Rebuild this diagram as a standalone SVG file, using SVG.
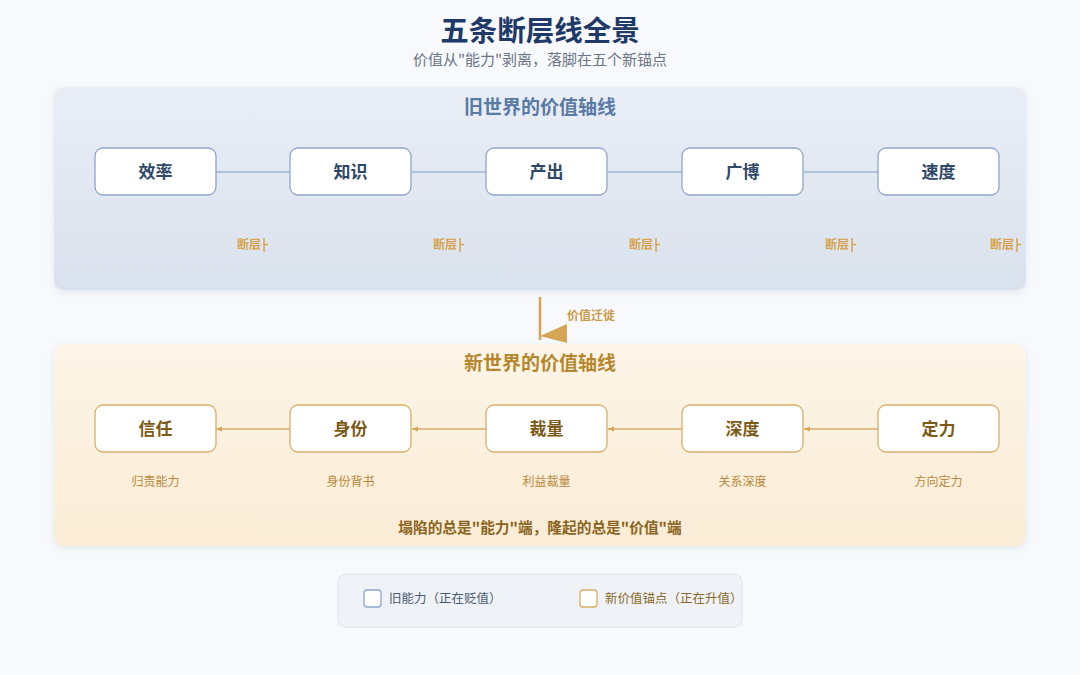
<svg xmlns="http://www.w3.org/2000/svg" width="1080" height="675" viewBox="0 0 1080 675">
<defs>
<linearGradient id="gOld" x1="0" y1="0" x2="0" y2="1"><stop offset="0" stop-color="#e9eef6"/><stop offset="1" stop-color="#dae2ed"/></linearGradient>
<linearGradient id="gNew" x1="0" y1="0" x2="0" y2="1"><stop offset="0" stop-color="#fdf5e8"/><stop offset="1" stop-color="#faecd6"/></linearGradient>
<filter id="sh" x="-5%" y="-10%" width="110%" height="125%"><feDropShadow dx="0" dy="2" stdDeviation="3" flood-color="#8090a8" flood-opacity="0.18"/></filter>
<marker id="ah" viewBox="0 0 10 10" refX="10" refY="5" markerWidth="6" markerHeight="6" orient="auto" markerUnits="userSpaceOnUse"><path d="M0,1 L10,5 L0,9 z" fill="#d4a656"/></marker>
<style>
text{font-family:"Noto Sans CJK SC","Noto Sans",sans-serif}
.title{font-size:28.5px;font-weight:700;fill:#1f3a68}
.sub{font-size:15px;fill:#6b7585}
.ph1{font-size:19px;font-weight:700;fill:#5a7aa6}
.ph2{font-size:19px;font-weight:700;fill:#b5862c}
.on{fill:#fff;stroke:#8ea6c9;stroke-width:1.3}
.nn{fill:#fff;stroke:#d8ae68;stroke-width:1.3}
.ot{font-size:17px;font-weight:700;fill:#2f4868}
.nt{font-size:17px;font-weight:700;fill:#7c5a16}
.oc{stroke:#9fb3d1;stroke-width:1.5;fill:none}
.nc{stroke:#d8ae68;stroke-width:1.3;fill:none}
.fl{font-size:12px;font-weight:700;fill:#d6a550}
.tk{stroke:#d6a550;stroke-width:1.5;fill:none}
.sl{font-size:12px;fill:#b8893a}
.bt{font-size:14.7px;font-weight:700;fill:#8a6420}
.lg{font-size:12.5px}
</style>
</defs>
<rect width="1080" height="675" fill="#f7f9fc"/>
<text class="title" x="540" y="41" text-anchor="middle">五条断层线全景</text>
<text class="sub" x="540" y="65" text-anchor="middle">价值从"能力"剥离，落脚在五个新锚点</text>

<g id="panel-old">
<rect x="54" y="87" width="972" height="203" rx="10" fill="url(#gOld)" filter="url(#sh)"/>
<text class="ph1" x="540" y="114" text-anchor="middle">旧世界的价值轴线</text>
</g>
<g id="panel-new">
<rect x="54" y="344" width="972" height="202" rx="10" fill="url(#gNew)" filter="url(#sh)"/>
<text class="ph2" x="540" y="370" text-anchor="middle">新世界的价值轴线</text>
</g>

<g id="connectors">
<line class="oc" x1="216" y1="172" x2="290" y2="172"/>
<line class="oc" x1="412" y1="172" x2="486" y2="172"/>
<line class="oc" x1="608" y1="172" x2="682" y2="172"/>
<line class="oc" x1="804" y1="172" x2="878" y2="172"/>
<line class="nc" x1="878" y1="429" x2="804" y2="429" marker-end="url(#ah)"/>
<line class="nc" x1="682" y1="429" x2="608" y2="429" marker-end="url(#ah)"/>
<line class="nc" x1="486" y1="429" x2="412" y2="429" marker-end="url(#ah)"/>
<line class="nc" x1="290" y1="429" x2="216" y2="429" marker-end="url(#ah)"/>
<g id="migrate">
<line x1="540" y1="297" x2="540" y2="340" stroke="#d4a656" stroke-width="2.5"/>
<polygon points="540,336 567,324 567,343" fill="#d4a656"/>
<text x="567" y="320" style="font-size:12px;font-weight:700;fill:#c99a45">价值迁徙</text>
</g>
</g>

<g id="faults">
<text class="fl" x="237" y="249">断层</text><path class="tk" d="M264,238 V252 M264,244.5 H268"/>
<text class="fl" x="433" y="249">断层</text><path class="tk" d="M460,238 V252 M460,244.5 H464"/>
<text class="fl" x="629" y="249">断层</text><path class="tk" d="M656,238 V252 M656,244.5 H660"/>
<text class="fl" x="825" y="249">断层</text><path class="tk" d="M852,238 V252 M852,244.5 H856"/>
<text class="fl" x="990" y="249">断层</text><path class="tk" d="M1017,238 V252 M1017,244.5 H1021"/>
</g>

<g id="node-xiaolv"><rect class="on" x="95" y="148" width="121" height="47" rx="8"/><text class="ot" x="155.5" y="177.5" text-anchor="middle">效率</text></g>
<g id="node-zhishi"><rect class="on" x="290" y="148" width="121" height="47" rx="8"/><text class="ot" x="350.5" y="177.5" text-anchor="middle">知识</text></g>
<g id="node-chanchu"><rect class="on" x="486" y="148" width="121" height="47" rx="8"/><text class="ot" x="546.5" y="177.5" text-anchor="middle">产出</text></g>
<g id="node-guangbo"><rect class="on" x="682" y="148" width="121" height="47" rx="8"/><text class="ot" x="742.5" y="177.5" text-anchor="middle">广博</text></g>
<g id="node-sudu"><rect class="on" x="878" y="148" width="121" height="47" rx="8"/><text class="ot" x="938.5" y="177.5" text-anchor="middle">速度</text></g>

<g id="node-xinren"><rect class="nn" x="95" y="405" width="121" height="47" rx="8"/><text class="nt" x="155.5" y="434.5" text-anchor="middle">信任</text><text class="sl" x="155.5" y="486" text-anchor="middle">归责能力</text></g>
<g id="node-shenfen"><rect class="nn" x="290" y="405" width="121" height="47" rx="8"/><text class="nt" x="350.5" y="434.5" text-anchor="middle">身份</text><text class="sl" x="350.5" y="486" text-anchor="middle">身份背书</text></g>
<g id="node-cailiang"><rect class="nn" x="486" y="405" width="121" height="47" rx="8"/><text class="nt" x="546.5" y="434.5" text-anchor="middle">裁量</text><text class="sl" x="546.5" y="486" text-anchor="middle">利益裁量</text></g>
<g id="node-shendu"><rect class="nn" x="682" y="405" width="121" height="47" rx="8"/><text class="nt" x="742.5" y="434.5" text-anchor="middle">深度</text><text class="sl" x="742.5" y="486" text-anchor="middle">关系深度</text></g>
<g id="node-dingli"><rect class="nn" x="878" y="405" width="121" height="47" rx="8"/><text class="nt" x="938.5" y="434.5" text-anchor="middle">定力</text><text class="sl" x="938.5" y="486" text-anchor="middle">方向定力</text></g>

<text class="bt" x="540" y="533" text-anchor="middle">塌陷的总是"能力"端，隆起的总是"价值"端</text>

<g id="legend">
<rect x="338" y="574" width="404" height="53" rx="8" fill="#eff3f7" stroke="#dce3eb"/>
<rect x="364" y="590" width="17" height="17" rx="3" fill="#fff" stroke="#8ea6c9" stroke-width="1.3"/>
<text class="lg" x="389" y="603" fill="#4b5b72">旧能力（正在贬值）</text>
<rect x="580" y="590" width="17" height="17" rx="3" fill="#fff" stroke="#d8ae68" stroke-width="1.3"/>
<text class="lg" x="605" y="603" fill="#8a6a2a">新价值锚点（正在升值）</text>
</g>
</svg>
